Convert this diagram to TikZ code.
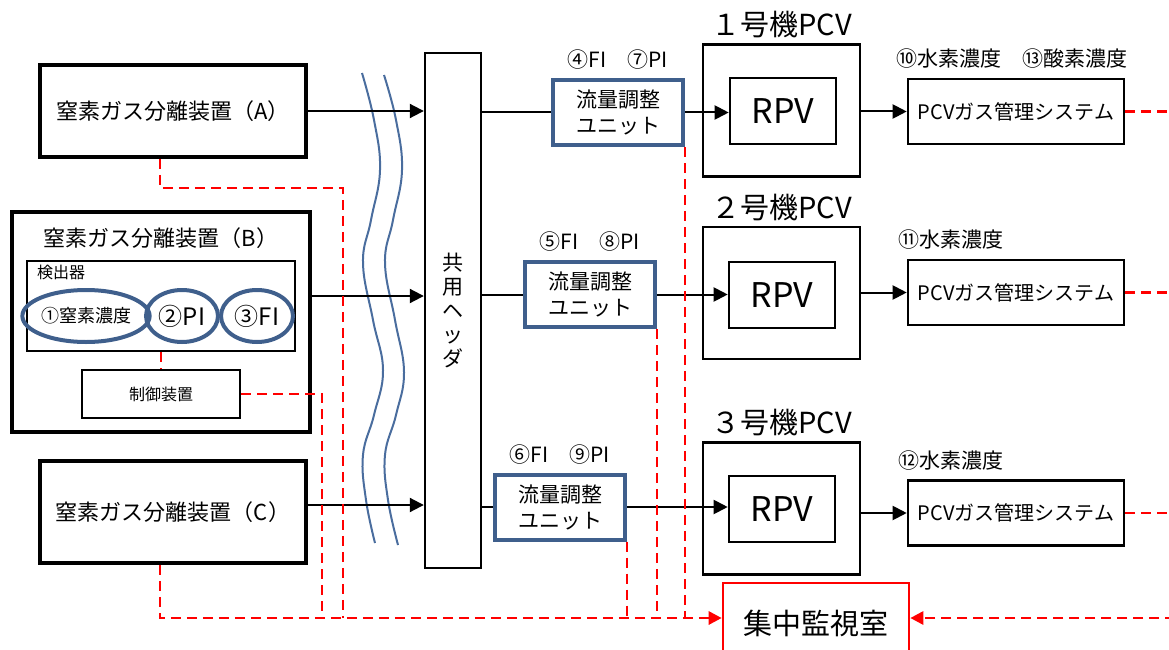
\documentclass[tikz,border=0pt]{standalone}
\usepackage{fontspec}
\setmainfont{Noto Sans CJK JP}
\usepackage{xcolor}
\usepackage{tikz}
\usetikzlibrary{
  arrows.meta,
  shapes.geometric,
  positioning
}
\definecolor{nsBlue}{HTML}{3F5F8C}
\definecolor{nsWave}{HTML}{4A6D9E}
\definecolor{nsRed}{HTML}{FF0000}
\newcommand{\fs}[1]{\fontsize{#1}{#1}\selectfont}
\tikzset{
  nsbox/.style={draw, line width=3.5pt, inner sep=0pt, align=center, font=\fs{22}},
  subbox/.style={draw, line width=2.6pt, inner sep=0pt, align=center},
  hdrbox/.style={draw, line width=2.4pt, inner sep=0pt, align=center,
    minimum width=56pt, minimum height=515pt, font=\fontsize{21}{24}\selectfont},
  unitbox/.style={draw=nsBlue, line width=4pt, inner sep=0pt, align=center,
    minimum width=130pt, minimum height=65pt, font=\fontsize{21}{26}\selectfont},
  sensor/.style={draw=nsBlue, ellipse, line width=4pt, inner sep=0pt, minimum height=52pt},
  pcvbox/.style={subbox, minimum width=157pt, minimum height=132pt},
  rpvbox/.style={subbox, minimum width=106pt, minimum height=66pt, font=\fs{34}},
  gasbox/.style={subbox, minimum width=216pt, minimum height=65pt, font=\fs{20}},
  roombox/.style={draw=nsRed, line width=2.6pt, inner sep=0pt, minimum width=186pt,
    minimum height=80pt, font=\fs{29}},
  tag/.style={inner sep=0pt, font=\fs{21}},
  pcvtag/.style={inner sep=0pt, font=\fs{29}},
  pipe/.style={line width=2pt},
  flow/.style={-{Triangle[length=14pt,width=14pt]}, line width=2pt},
  signal/.style={nsRed, line width=2.8pt, dash pattern=on 10pt off 6pt},
  sigarrow/.style={signal, -{Triangle[length=13pt,width=13pt]}},
  wave/.style={nsWave, line width=2pt}
}

\begin{document}
\begin{tikzpicture}[x=1pt, y=-1pt, node distance=8pt]
  \useasboundingbox (0,0) rectangle (1169,650);
  % nitrogen separators
  \node[nsbox, minimum width=266pt, minimum height=92pt] (sepA) at (173,111) {窒素ガス分離装置（A）};
  \node[nsbox, minimum width=298pt, minimum height=220pt] (sepB) at (161,322) {};
  \node[tag, font=\fs{22}] (sepBname) at (161,238) {窒素ガス分離装置（B）};
  \node[subbox, minimum width=268pt, minimum height=90pt] (det) at (161,306) {};
  \node[tag, font=\fs{16}, anchor=west] (detname) at (37,272) {検出器};
  \node[sensor, minimum width=115pt, font=\fs{18}] (sN2) at (86,316) {①窒素濃度};
  \node[sensor, minimum width=72pt, font=\fs{24}] (sPI) at (182,316) {②PI};
  \node[sensor, minimum width=72pt, font=\fs{24}] (sFI) at (257,316) {③FI};
  \node[subbox, minimum width=158pt, minimum height=48pt, font=\fs{16}] (ctrl) at (161,394) {制御装置};
  \node[nsbox, minimum width=266pt, minimum height=102pt] (sepC) at (173,512) {窒素ガス分離装置（C）};

  % wavy break marks
  \draw[wave] plot[smooth, tension=0.7] coordinates {(362,73) (374,120) (380,170) (371,220) (363,263) (373,320) (383,370) (374,415) (363,455) (366,500) (375,543)};
  \draw[wave] plot[smooth, tension=0.7] coordinates {(384,75) (396,120) (402,170) (393,220) (385,263) (395,320) (404,372) (396,415) (385,455) (388,500) (398,545)};

  % common header and flow units
  \node[hdrbox] (hdr) at (453,310.5) {共\\用\\ヘ\\ッ\\ダ};
  \node[unitbox] (unit1) at (618,112.5) {流量調整\\ユニット};
  \node[unitbox] (unit2) at (590,294.5) {流量調整\\ユニット};
  \node[unitbox] (unit3) at (560,507) {流量調整\\ユニット};
  \node[tag, above=of unit1] (unit1tag) {④FI　⑦PI};
  \node[tag, above=of unit2] (unit2tag) {⑤FI　⑧PI};
  \node[tag, above=of unit3] (unit3tag) {⑥FI　⑨PI};

  % PCV / RPV
  \node[pcvbox] (pcv1) at (781.5,110.5) {};
  \node[pcvbox] (pcv2) at (781.5,293) {};
  \node[pcvbox] (pcv3) at (781.5,508.5) {};
  \node[pcvtag, above=5pt of pcv1] (pcv1tag) {１号機PCV};
  \node[pcvtag, above=5pt of pcv2] (pcv2tag) {２号機PCV};
  \node[pcvtag, above=5pt of pcv3] (pcv3tag) {３号機PCV};
  \node[rpvbox] (rpv1) at (783,111) {RPV};
  \node[rpvbox] (rpv2) at (782,295) {RPV};
  \node[rpvbox] (rpv3) at (782,509) {RPV};

  % gas management systems
  \node[gasbox] (gas1) at (1016,111.5) {PCVガス管理システム};
  \node[gasbox] (gas2) at (1016,292.5) {PCVガス管理システム};
  \node[gasbox] (gas3) at (1016,513) {PCVガス管理システム};
  \node[tag, above right=9pt and -10pt of gas1.north west] (gas1tag) {⑩水素濃度　⑬酸素濃度};
  \node[tag, above right=9pt and -8pt of gas2.north west] (gas2tag) {⑪水素濃度};
  \node[tag, above right=9pt and -8pt of gas3.north west] (gas3tag) {⑫水素濃度};

  \node[roombox] (room) at (816,623) {集中監視室};

  % gas flow
  \coordinate (bOut) at (310,296);
  \coordinate (cOut) at (306,505);
  \draw[flow] (sepA.east) -- (sepA.east -| hdr.west);
  \draw[flow] (sepB.east |- bOut) -- (bOut -| hdr.west);
  \draw[flow] (sepC.east |- cOut) -- (cOut -| hdr.west);
  \draw[pipe] (hdr.east |- unit1) -- (unit1.west);
  \draw[pipe] (hdr.east |- unit2) -- (unit2.west);
  \draw[pipe] (hdr.east |- unit3) -- (unit3.west);
  \draw[flow] (unit1.east) -- (unit1.east -| rpv1.west);
  \draw[flow] (unit2.east) -- (unit2.east -| rpv2.west);
  \draw[flow] (unit3.east) -- (unit3.east -| rpv3.west);
  \draw[flow] (pcv1.east |- gas1) -- (gas1.west);
  \draw[flow] (pcv2.east |- gas2) -- (gas2.west);
  \draw[flow] (pcv3.east |- gas3) -- (gas3.west);

  % signal lines
  \coordinate (bus) at (160,618);
  \coordinate (busR) at (1175,618);
  \coordinate (aBend) at (343,188);
  \coordinate (cBend) at (322,394);
  \draw[signal] (sepA.south -| bus) |- (aBend) -- (aBend |- bus);
  \draw[signal] (det.south) -- (ctrl.north);
  \draw[signal] (ctrl.east) -- (cBend) -- (cBend |- bus);
  \draw[sigarrow] (sepC.south -| bus) -- (bus) -- (bus -| room.west);
  \draw[signal] (unit1.south east) -- (unit1.south east |- bus);
  \draw[signal] (unit2.south east) -- (unit2.south east |- bus);
  \draw[signal] (unit3.south east) -- (unit3.south east |- bus);
  \draw[signal] (gas1.east) -- (gas1.east -| busR);
  \draw[signal] (gas2.east) -- (gas2.east -| busR);
  \draw[signal] (gas3.east) -- (gas3.east -| busR);
  \draw[sigarrow] (busR) -- (busR -| room.east);
\end{tikzpicture}
\end{document}
